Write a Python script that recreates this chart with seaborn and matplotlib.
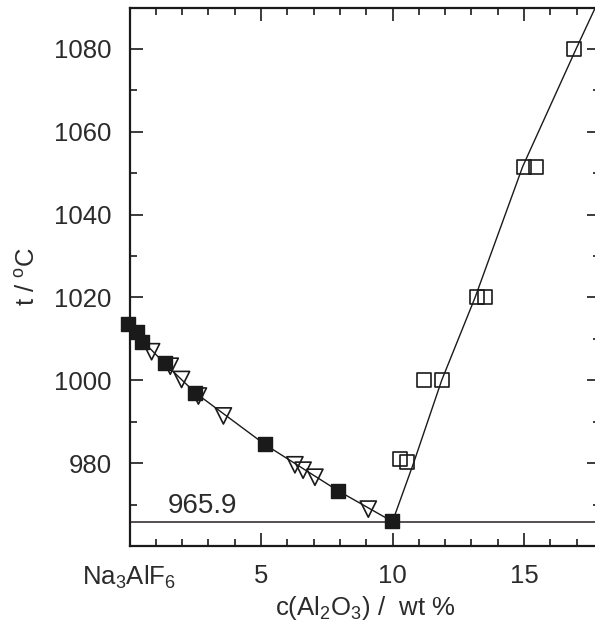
import matplotlib
matplotlib.use("Agg")
import matplotlib.pyplot as plt
import numpy as np
import pandas as pd
import seaborn as sns
from matplotlib.ticker import FixedLocator, MultipleLocator

# ---- data ----
filled_x = [-0.05, 0.27, 0.46, 1.35, 2.49, 5.15, 7.94, 9.97]
filled_y = [1013.7, 1011.7, 1009.3, 1004.2, 997.0, 984.6, 973.2, 966.0]

tri_x = [0.84, 1.55, 1.98, 2.62, 3.57, 6.29, 6.60, 7.05, 9.08]
tri_y = [1006.9, 1003.4, 1000.2, 996.2, 991.4, 979.6, 978.3, 976.6, 968.9]

open_x = [10.28, 10.54, 11.21, 11.89, 13.22, 13.52, 15.00, 15.46, 16.90]
open_y = [981.1, 980.3, 1000.1, 1000.1, 1020.2, 1020.2, 1051.6, 1051.6, 1079.9]

left_line_x = [0.0, 0.5, 1.3, 2.5, 5.15, 7.94, 10.0]
left_line_y = [1012.8, 1009.5, 1004.3, 997.0, 984.5, 973.3, 965.9]

right_line_x = [10.0, 10.8, 11.87, 13.14, 14.95, 16.98, 17.75]
right_line_y = [965.9, 980.0, 1000.0, 1020.0, 1051.6, 1080.0, 1090.5]

eutectic_t = 965.9
eutectic_label = "965.9"

x_ticks = [0, 5, 10, 15]
x_ticklabels = [r"Na$_3$AlF$_6$", "5", "10", "15"]
y_ticks = [980, 1000, 1020, 1040, 1060, 1080]
y_ticklabels = ["980", "1000", "1020", "1040", "1060", "1080"]

# ---- style ----
sns.set_theme(style="ticks")
plt.rcParams["font.family"] = ["Liberation Sans", "DejaVu Sans"]
plt.rcParams["mathtext.default"] = "regular"

W, H = 595, 630
fig = plt.figure(figsize=(W / 100, H / 100), dpi=100)
left_px, right_px, top_px, bottom_px = 129.5, 600, 7.5, 546
ax = fig.add_axes([left_px / W, 1 - bottom_px / H,
                   (right_px - left_px) / W, (bottom_px - top_px) / H])

ink = "#1a1a1a"
txt = "#2b2b2b"

# lines
sns.lineplot(x=left_line_x, y=left_line_y, sort=False, estimator=None,
             color=ink, lw=1.0, ax=ax, zorder=2)
sns.lineplot(x=right_line_x, y=right_line_y, sort=False, estimator=None,
             color=ink, lw=1.0, ax=ax, zorder=2)
ax.axhline(eutectic_t, color="#2a1f1f", lw=1.1, zorder=1)

# markers
sns.scatterplot(x=filled_x, y=filled_y, marker="s", s=88, color=ink,
                edgecolor=ink, linewidth=1.0, ax=ax, zorder=3, clip_on=False)
sns.scatterplot(x=tri_x, y=tri_y, marker="v", s=135, facecolors="none",
                edgecolor=ink, linewidth=1.2, ax=ax, zorder=4, clip_on=False)
sns.scatterplot(x=open_x, y=open_y, marker="s", s=100, facecolors="none",
                edgecolor=ink, linewidth=1.2, ax=ax, zorder=4, clip_on=False)

ax.text(2.76, 966.6, eutectic_label, fontsize=20, color=txt,
        ha="center", va="bottom")

# axes
ax.set_xlim(0, (right_px - left_px) / 26.3)
ax.set_ylim(960, 1090)
ax.xaxis.set_major_locator(FixedLocator(x_ticks))
ax.set_xticklabels(x_ticklabels)
ax.xaxis.set_minor_locator(MultipleLocator(1))
ax.yaxis.set_major_locator(FixedLocator(y_ticks))
ax.set_yticklabels(y_ticklabels)
ax.yaxis.set_minor_locator(MultipleLocator(10))

ax.tick_params(which="both", direction="in", top=True, right=True,
               width=1.2, color=ink, labelsize=18.5, labelcolor=txt, pad=13)
ax.tick_params(which="major", length=9.5)
ax.tick_params(which="minor", length=5)
for sp in ax.spines.values():
    sp.set_linewidth(1.6)
    sp.set_color(ink)

ax.set_xlabel(r"c(Al$_2$O$_3$) /  wt %", fontsize=18.5, color=txt, labelpad=2)
ax.set_ylabel(r"t / $^o$C", fontsize=18.5, color=txt, labelpad=10)

fig.savefig("out.png", dpi=100)
